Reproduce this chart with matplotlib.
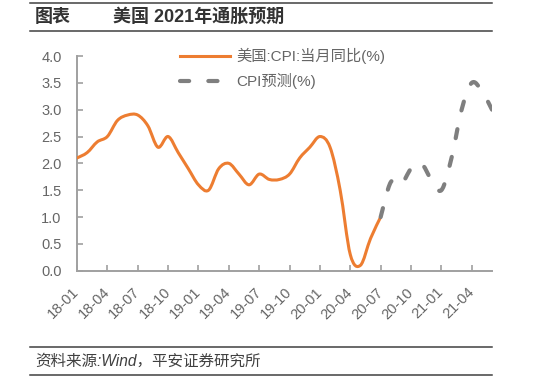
import matplotlib
matplotlib.use("Agg")
import matplotlib.pyplot as plt
from matplotlib.path import Path
from matplotlib.patches import PathPatch
from matplotlib.lines import Line2D

# -------- data --------
years = [2018, 2019, 2020, 2021]
months = [f"{y % 100:02d}-{m:02d}" for y in years for m in range(1, 13)][:42]  # 18-01 .. 21-06
tick_labels = months[::3][:14]  # 18-01 .. 21-04

# US CPI yoy, 18-01 .. 20-07
cpi_actual = [2.1, 2.2, 2.4, 2.5, 2.8, 2.9, 2.9, 2.7, 2.3, 2.5, 2.2, 1.9,
              1.6, 1.5, 1.9, 2.0, 1.8, 1.6, 1.8, 1.7, 1.7, 1.8, 2.1, 2.3,
              2.5, 2.3, 1.5, 0.3, 0.1, 0.6, 1.0]
# forecast, 20-07 .. 21-06
cpi_forecast = [1.0, 1.65, 1.6, 1.9, 2.0, 1.7, 1.5, 2.1, 3.0, 3.5, 3.35, 3.0]

label_actual = "美国:CPI:当月同比(%)"
label_forecast = "CPI预测(%)"

ORANGE = "#ED7D31"
GRAY = "#7F7F7F"
TXT = "#666666"
CJK = ["Liberation Sans", "Noto Sans CJK SC"]
plt.rcParams["font.family"] = CJK


def smooth_path(xs, ys):
    # excel-like smoothed line: catmull-rom segments as cubic beziers
    n = len(xs)
    verts = [(xs[0], ys[0])]
    codes = [Path.MOVETO]
    for i in range(n - 1):
        a = max(i - 1, 0)
        d = min(i + 2, n - 1)
        c1 = (xs[i] + (xs[i + 1] - xs[a]) / 6, ys[i] + (ys[i + 1] - ys[a]) / 6)
        c2 = (xs[i + 1] - (xs[d] - xs[i]) / 6, ys[i + 1] - (ys[d] - ys[i]) / 6)
        verts += [c1, c2, (xs[i + 1], ys[i + 1])]
        codes += [Path.CURVE4] * 3
    return Path(verts, codes)


fig = plt.figure(figsize=(5.54, 3.76), dpi=100)
ax = fig.add_axes([77 / 554, 1 - 270.7 / 376, 415 / 554, 214.7 / 376])

x_act = list(range(len(cpi_actual)))
x_fc = list(range(len(cpi_actual) - 1, len(cpi_actual) - 1 + len(cpi_forecast)))

dash = (0, (2.2, 4.6))
ax.add_patch(PathPatch(smooth_path(x_act, cpi_actual), fill=False,
                       edgecolor=ORANGE, lw=2.2, capstyle="round", joinstyle="round", zorder=3))
ax.add_patch(PathPatch(smooth_path(x_fc, cpi_forecast), fill=False,
                       edgecolor=GRAY, lw=3, linestyle=dash, capstyle="round", joinstyle="round", zorder=4))

ax.set_xlim(0, len(months) - 1)
ax.set_ylim(0, 4)
ax.set_yticks([i * 0.5 for i in range(9)])
ax.set_yticklabels([f"{i * 0.5:.1f}" for i in range(9)])
ax.set_xticks([months.index(t) for t in tick_labels])
ax.set_xticklabels(tick_labels, rotation=45, ha="right", va="center", rotation_mode="anchor")

for s in ["top", "right"]:
    ax.spines[s].set_visible(False)
for s in ["left", "bottom"]:
    ax.spines[s].set_color("#A0A0A0")
    ax.spines[s].set_linewidth(1.4)
ax.tick_params(axis="both", direction="in", length=4, width=1.2, color="#A0A0A0",
               labelcolor=TXT, labelsize=10.5)
ax.tick_params(axis="y", pad=11)
ax.tick_params(axis="x", pad=14)
for lb in ax.get_xticklabels():
    lb.set_x(lb.get_position()[0])

handles = [Line2D([], [], color=ORANGE, lw=2.2),
           Line2D([], [], color=GRAY, lw=3, linestyle=dash, dash_capstyle="round")]
ax.legend(handles, [label_actual, label_forecast], loc="upper left",
          bbox_to_anchor=(180 / 554, 1 - 48 / 376), bbox_transform=fig.transFigure,
          frameon=False, fontsize=11, labelcolor=TXT, handlelength=3.3,
          handletextpad=0.4, labelspacing=0.6, borderpad=0, borderaxespad=0)

# header / footer
for yy in [1 - 2.5 / 376, 1 - 31 / 376, 1 - 347 / 376, 1 - 374.5 / 376]:
    fig.add_artist(Line2D([30 / 554, 492 / 554], [yy, yy], transform=fig.transFigure,
                          color="#404040", lw=1.1))
fig.text(35 / 554, 1 - 17 / 376, "图表", fontsize=13, fontweight="bold",
         color="#333333", va="center", ha="left")
fig.text(113 / 554, 1 - 17 / 376, "美国 2021年通胀预期", fontsize=13, fontweight="bold",
         color="#333333", va="center", ha="left")
fig.text(35 / 554, 1 - 361 / 376, "资料来源:Wind，平安证券研究所", fontsize=11.2, style="italic",
         color="#404040", va="center", ha="left")

fig.savefig("out.png", dpi=100)
